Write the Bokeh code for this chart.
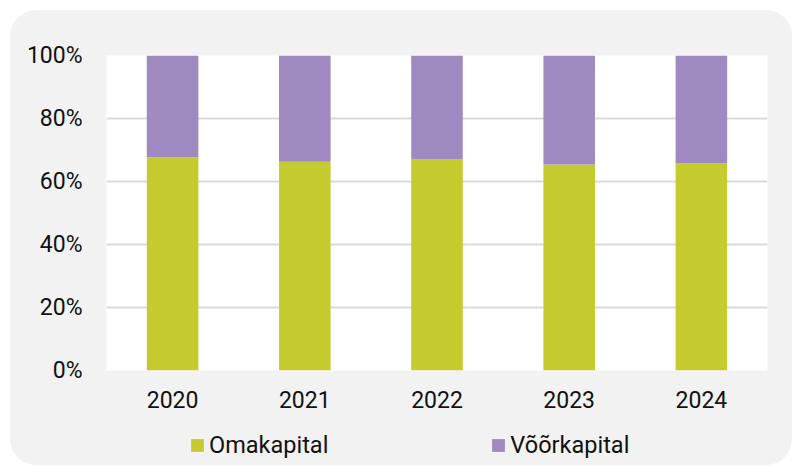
from bokeh.plotting import figure
from bokeh.layouts import column
from bokeh.models import ColumnDataSource, FactorRange, FixedTicker, Legend, LegendItem, CustomJSTickFormatter
from bokeh.embed import file_html
from bokeh.resources import INLINE

years = ["2020", "2021", "2022", "2023", "2024"]
omakapital = [67.7, 66.3, 67.0, 65.4, 65.9]
voorkapital = [32.3, 33.7, 33.0, 34.6, 34.1]
y_ticks = [0, 20, 40, 60, 80, 100]
series_names = ["Omakapital", "Võõrkapital"]
series_colors = ["#c5cb2e", "#9e8ac0"]

source = ColumnDataSource(dict(year=years, Omakapital=omakapital, Voorkapital=voorkapital))

p = figure(x_range=FactorRange(*years, range_padding=0), y_range=(0, 100),
           width=782, height=410, output_backend="svg", toolbar_location=None,
           min_border_left=96, min_border_right=25, min_border_top=45, min_border_bottom=50)
p.border_fill_alpha = 0
p.background_fill_color = "white"
p.outline_line_color = None

r = p.vbar_stack(["Omakapital", "Voorkapital"], x="year", width=0.39, source=source,
                 color=series_colors, line_color=None)

p.yaxis.ticker = FixedTicker(ticks=y_ticks)
p.yaxis.formatter = CustomJSTickFormatter(code="return tick + '%';")
p.ygrid.ticker = FixedTicker(ticks=[0, 20, 40, 60, 80])
p.ygrid.grid_line_color = "#d9d9d9"
p.ygrid.grid_line_width = 2
p.xgrid.grid_line_color = None

for ax in (p.xaxis[0], p.yaxis[0]):
    ax.axis_line_color = None
    ax.major_tick_line_color = None
    ax.minor_tick_line_color = None
    ax.major_label_text_font = "Roboto"
    ax.major_label_text_font_size = "23px"
    ax.major_label_text_color = "#111111"
p.yaxis.major_label_standoff = 18
p.xaxis.major_label_standoff = 14

# legend strip (its renderers hold the series keys only; they sit outside the visible range)
p2 = figure(width=782, height=45, output_backend="svg", toolbar_location=None,
            x_axis_type=None, y_axis_type=None, x_range=(0, 1), y_range=(0, 1),
            min_border=0)
p2.border_fill_alpha = 0
p2.background_fill_alpha = 0
p2.outline_line_color = None
p2.grid.visible = False
items = []
for name, col in zip(series_names, series_colors):
    rr = p2.vbar(x=[-5], top=[-5], bottom=[-6], width=0.1, color=col, line_color=None)
    items.append(LegendItem(label=name, renderers=[rr]))

legend = Legend(items=items, orientation="horizontal", location=(83, 6),
                glyph_width=16, glyph_height=16, label_standoff=4, spacing=162,
                padding=0, margin=0, border_line_color=None, background_fill_alpha=0,
                label_text_font="Roboto", label_text_font_size="23.5px", label_text_color="#111111")
p2.add_layout(legend, "center")

layout = column(p, p2, spacing=0)
layout.styles = {"background-color": "#f2f2f2", "border-radius": "26px",
                 "margin-left": "10px", "margin-top": "10px"}

open("out.html", "w").write(file_html(layout, INLINE))
